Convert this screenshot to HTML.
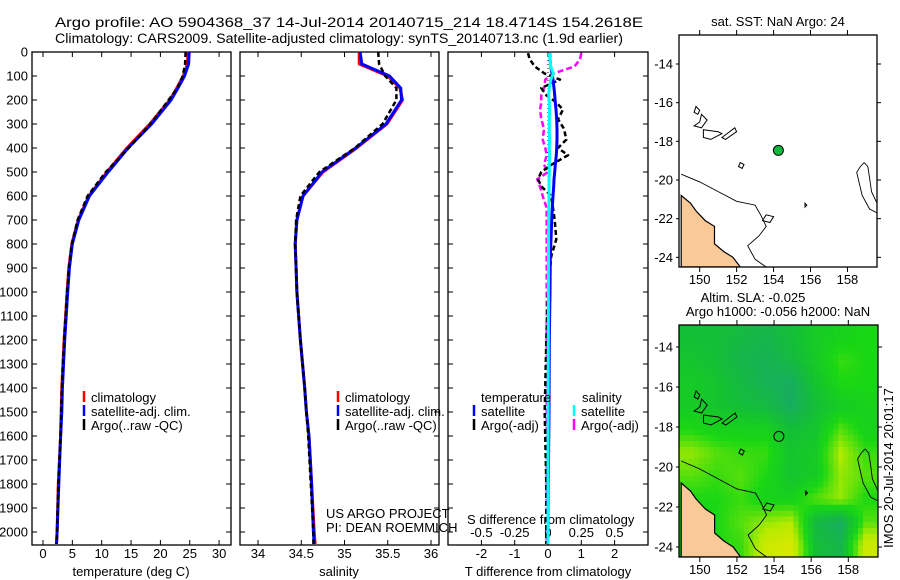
<!DOCTYPE html>
<html><head><meta charset="utf-8"><style>
html,body{margin:0;padding:0;background:#fff;}
svg{display:block;font-family:"Liberation Sans",sans-serif;}
</style></head><body>
<svg id="c" width="900" height="580" viewBox="0 0 900 580">
<text x="55" y="27" font-size="13.5" textLength="588" lengthAdjust="spacingAndGlyphs">Argo profile: AO 5904368_37 14-Jul-2014 20140715_214 18.4714S 154.2618E</text>
<text x="55" y="43" font-size="13.5" textLength="568" lengthAdjust="spacingAndGlyphs">Climatology: CARS2009. Satellite-adjusted climatology: synTS_20140713.nc (1.9d earlier)</text>
</svg>
<script>
const NS="http://www.w3.org/2000/svg";
const svg=document.getElementById('c');
function mk(t,a,p){const e=document.createElementNS(NS,t);for(const k in a)e.setAttribute(k,a[k]);(p||svg).appendChild(e);return e;}
function txt(x,y,s,o,p){o=o||{};const e=mk('text',Object.assign({x:x,y:y,'font-size':13},o),p);e.textContent=s;return e;}

// ---- data ----
const depths=[0,50,100,150,200,300,400,500,600,700,800,900,1000,1200,1400,1500,1600,1800,2000,2050];
const tempClim=[24.7,24.6,23.9,22.8,21.6,18.2,14.3,10.9,7.8,6.0,4.9,4.4,4.1,3.6,3.2,3.1,3.0,2.6,2.4,2.3];
const tempSat=[24.9,24.8,24.1,23.0,21.8,18.5,14.5,11.1,7.9,6.1,5.0,4.5,4.2,3.7,3.3,3.2,3.0,2.7,2.4,2.3];
const tempArgo=[24.3,24.2,23.8,22.9,21.4,18.3,14.6,10.7,7.6,5.9,4.9,4.4,4.1,3.6,3.2,3.1,3.0,2.6,2.4,2.3];
const salClim=[35.17,35.17,35.5,35.64,35.67,35.49,35.14,34.75,34.52,34.45,34.43,34.44,34.45,34.49,34.54,34.56,34.59,34.62,34.65,34.66];
const salSat=[35.18,35.2,35.52,35.65,35.66,35.48,35.13,34.74,34.52,34.45,34.43,34.44,34.45,34.49,34.54,34.56,34.59,34.62,34.64,34.65];
const salArgo=[35.39,35.4,35.47,35.6,35.6,35.44,35.12,34.71,34.49,34.44,34.43,34.44,34.45,34.49,34.54,34.56,34.58,34.61,34.64,34.64];
const diffDepths=[5,30,60,90,115,150,180,210,240,280,320,365,400,430,470,500,530,560,600,650,700,780,850,1000,1200,1500,1800,2050];
const dTsat=[0.05,0.06,0.08,0.12,0.15,0.18,0.2,0.22,0.24,0.26,0.27,0.27,0.26,0.25,0.22,0.2,0.18,0.17,0.15,0.13,0.11,0.09,0.07,0.06,0.04,0.03,0.01,0.0];
const dTargo=[-0.6,-0.55,-0.4,-0.1,0.36,-0.2,-0.05,0.25,0.45,0.3,0.48,0.55,0.3,0.6,0.1,-0.2,-0.3,-0.2,0.1,0.15,0.2,0.25,0.1,0.0,-0.05,-0.1,-0.05,-0.05];
const dSsat=[0.01,0.015,0.02,0.04,0.02,0.01,0.005,0.01,0.012,0.01,0.01,0.012,0.01,0.012,0.01,0.01,0.008,0.008,0.008,0.006,0.005,0.004,0.004,0.003,0.002,0.001,0.0,0.0];
const dSargo=[0.25,0.24,0.2,0.04,-0.02,-0.03,-0.05,-0.05,-0.06,-0.05,-0.03,-0.04,-0.02,-0.01,-0.03,0.0,-0.08,-0.06,-0.04,-0.01,-0.01,-0.01,-0.01,-0.01,-0.01,-0.01,-0.01,-0.01];
const depthTicks=[0,100,200,300,400,500,600,700,800,900,1000,1100,1200,1300,1400,1500,1600,1700,1800,1900,2000];
const tempTicks=[0,5,10,15,20,25,30];
const salTicks=[34,34.5,35,35.5,36];
const tdTicks=[-2,-1,0,1,2];
const sdTicks=[-0.5,-0.25,0,0.25,0.5];

// ---- axes ----
const Y=d=>52+d*0.24;
const XT=t=>43+t*5.87;
const XS=s=>258+(s-34)*86.5;
const XD=t=>548+t*33.3;
const XSD=s=>548+s*133.2;
const pTop=52,pBot=545;

function frame(x0,x1,nm){
  const r=mk('rect',{x:x0,y:pTop,width:x1-x0,height:pBot-pTop,fill:'none',stroke:'#000','stroke-width':1.3});
  
  
  depthTicks.forEach(d=>{mk('line',{x1:x0,x2:x0+5,y1:Y(d),y2:Y(d),stroke:'#000'});mk('line',{x1:x1,x2:x1-5,y1:Y(d),y2:Y(d),stroke:'#000'});});
}
function xticks(ticks,f,y){
  ticks.forEach(v=>{const x=f(v);mk('line',{x1:x,x2:x,y1:pTop,y2:pTop+5,stroke:'#000'});mk('line',{x1:x,x2:x,y1:pBot,y2:pBot-5,stroke:'#000'});
  const t=txt(x,y,String(v),{'text-anchor':'middle'});
  
  });
}
function line(xs,ys,fx,col,w,dash,nm){
  const p=xs.map((v,i)=>fx(v).toFixed(1)+','+Y(ys[i]).toFixed(1)).join(' ');
  const a={points:p,fill:'none',stroke:col,'stroke-width':w,'stroke-linejoin':'round'};
  if(dash)a['stroke-dasharray']=dash;
  const e=mk('polyline',a);
  
  
}
frame(32,231,'temperature-panel');frame(240,439,'salinity-panel');frame(448,648,'difference-panel');
depthTicks.forEach(d=>{const t=txt(28,Y(d)+4.5,String(d),{'text-anchor':'end'});
  
  });
xticks(tempTicks,XT,558);xticks(salTicks,XS,558);xticks(tdTicks,XD,558);
sdTicks.forEach(v=>{const t=txt(XSD(v),537,String(v),{'text-anchor':'middle'});
  
  });
function label(x,y,s,nm,o){const t=txt(x,y,s,o||{});
  
  return t;}
label(131,576,'temperature (deg C)','x-axis-title-temperature',{'text-anchor':'middle'});
label(339,576,'salinity','x-axis-title-salinity',{'text-anchor':'middle'});
label(548,576,'T difference from climatology','x-axis-title-t-diff',{'text-anchor':'middle'});
label(467,524,'S difference from climatology','s-diff-axis-title');
label(326,518,'US ARGO PROJECT','project-label');
label(326,532,'PI: DEAN ROEMMICH','pi-label');

// ---- series ----
line(tempClim,depths,XT,'#f00',3,null,'temp-climatology-line');
line(tempSat,depths,XT,'#00f',3,null,'temp-satellite-line');
line(tempArgo,depths,XT,'#000',2.5,'5,3','temp-argo-line');
line(salClim,depths,XS,'#f00',3,null,'sal-climatology-line');
line(salSat,depths,XS,'#00f',3,null,'sal-satellite-line');
line(salArgo,depths,XS,'#000',2.5,'5,3','sal-argo-line');
mk('line',{x1:XD(0),x2:XD(0),y1:pTop,y2:pBot,stroke:'#000','stroke-dasharray':'1,3'});
line(dSargo,diffDepths,XSD,'#f0f',2.5,'6,3','s-diff-argo-line');
line(dTargo,diffDepths,XD,'#000',2.5,'5,3','t-diff-argo-line');
line(dTsat,diffDepths,XD,'#00f',3,null,'t-diff-satellite-line');
line(dSsat,diffDepths,XSD,'#0ff',3,null,'s-diff-satellite-line');

// ---- legends ----
function leg(x,y,col,lab,nm){
  const g=mk('g',{});
  
  
  mk('line',{x1:x,x2:x,y1:y-11,y2:y,stroke:col,'stroke-width':2.5},g);
  txt(x+7,y,lab,{},g);
}
[['#f00','climatology'],['#00f','satellite-adj. clim.'],['#000','Argo(..raw -QC)']].forEach((l,i)=>leg(84,402+i*14,l[0],l[1],'temp-legend-entry'));
[['#f00','climatology'],['#00f','satellite-adj. clim.'],['#000','Argo(..raw -QC)']].forEach((l,i)=>leg(338,402+i*14,l[0],l[1],'sal-legend-entry'));
label(481,402,'temperature','legend-heading-temperature');
label(582,402,'salinity','legend-heading-salinity');
leg(474,416,'#00f','satellite','t-diff-legend-satellite');leg(474,430,'#000','Argo(-adj)','t-diff-legend-argo');
leg(574,416,'#0ff','satellite','s-diff-legend-satellite');leg(574,430,'#f0f','Argo(-adj)','s-diff-legend-argo');

// ---- maps ----
const lonT=[150,152,154,156,158], latT=[-14,-16,-18,-20,-22,-24];
const heat=[
[.3,.3,.25,.2,.3,.4,.45,.5],
[.35,.3,.2,.15,.25,.4,.55,.5],
[.4,.35,.25,.15,.1,.35,.5,.5],
[.4,.35,.3,.25,.1,.3,.4,.45],
[.5,.45,.45,.45,.3,.35,.6,.45],
[.7,.6,.55,.55,.35,.4,.75,.55],
[.6,.55,.6,.5,.35,.4,.7,.6],
[.5,.5,.55,.45,.45,.6,.7,.5],
[.5,.5,.6,.7,.75,.25,.1,.6],
[.5,.5,.55,.85,.9,.3,.2,.85]];
function cmap(v){const st=[[0,[25,165,115]],[0.3,[20,190,55]],[0.5,[25,215,20]],[0.75,[180,235,0]],[1,[238,230,0]]];
  v=Math.max(0,Math.min(1,v));
  for(let i=1;i<st.length;i++){if(v<=st[i][0]){const a=st[i-1],b=st[i],f=(v-a[0])/(b[0]-a[0]);return 'rgb('+a[1].map((c,k)=>Math.round(c+(b[1][k]-c)*f)).join(',')+')';}}return 'rgb(238,230,0)';}
function sampleHeat(u,v){const R=heat.length,C=heat[0].length;
  const x=Math.max(0,Math.min(C-1,u*C-0.5)),y=Math.max(0,Math.min(R-1,v*R-0.5));
  const i=Math.min(R-2,Math.floor(y)),j=Math.min(C-2,Math.floor(x)),fy=y-i,fx=x-j;
  return heat[i][j]*(1-fx)*(1-fy)+heat[i][j+1]*fx*(1-fy)+heat[i+1][j]*(1-fx)*fy+heat[i+1][j+1]*fx*fy;}
const land=[[149,-20.8],[149.5,-21.2],[149.8,-21.6],[150.3,-22.1],[150.8,-22.4],[150.8,-23.3],[151.3,-23.7],[151.8,-24.0],[152.2,-24.5],[149,-24.5]];
const contour=[[149,-19.7],[150,-20.1],[151,-20.6],[152,-21.1],[153,-21.3],[153.3,-21.8],[153.6,-22.4],[153.2,-22.9],[152.6,-23.4],[153,-24.1],[153.6,-24.5]];
const contour2=[[159.6,-21.7],[159.2,-21.5],[158.8,-20.8],[158.6,-20],[158.5,-19.6],[158.7,-19.3],[158.9,-19.1],[159.1,-19.3],[159.2,-19.9],[159.3,-20.6],[159.6,-21.2]];
const islands=[[[149.8,-16.2],[150,-16.4],[149.9,-16.6],[149.7,-16.5]],[[150.1,-16.6],[150.4,-16.9],[150.1,-17.3],[149.7,-17.2],[150.0,-17.0]],[[150.2,-17.4],[151.0,-17.5],[151.2,-17.6],[150.6,-17.9],[150.2,-17.8]],[[151.2,-17.8],[151.9,-17.3],[152.0,-17.5],[151.4,-17.9]],[[152.2,-19.1],[152.4,-19.2],[152.3,-19.4],[152.1,-19.3]],[[153.6,-21.8],[154,-21.9],[153.8,-22.2],[153.4,-22.1]],[[155.7,-21.2],[155.8,-21.3],[155.7,-21.4]]];
function map(x0,y0,w,h,latTop,nm,heatOn){
  const lon0=148.88,lon1=159.6,lat0=latTop,lat1=-24.5;
  const px=l=>x0+(l-lon0)/(lon1-lon0)*w, py=l=>y0+(lat0-l)/(lat0-lat1)*h;
  const g=mk('g',{});
  
  
  const cid='clip'+nm;const cp=mk('clipPath',{id:cid},g);mk('rect',{x:x0,y:y0,width:w,height:h},cp);
  const inner=mk('g',{'clip-path':'url(#'+cid+')'},g);
  if(heatOn){const N=40,M=40;
    for(let i=0;i<M;i++)for(let j=0;j<N;j++){
      const c=mk('rect',{x:(x0+j*w/N).toFixed(2),y:(y0+i*h/M).toFixed(2),width:(w/N+0.6).toFixed(2),height:(h/M+0.6).toFixed(2),fill:cmap(sampleHeat((j+0.5)/N,(i+0.5)/M))},inner);
      
      }}
  const P=a=>a.map(p=>px(p[0]).toFixed(1)+','+py(p[1]).toFixed(1)).join(' ');
  const ld=mk('polygon',{points:P(land),fill:'#f9c998',stroke:'#000','stroke-width':1.2},inner);
  
  
  mk('polyline',{points:P(contour),fill:'none',stroke:'#000','stroke-width':0.9},inner);
  mk('polyline',{points:P(contour2),fill:'none',stroke:'#000','stroke-width':0.9},inner);
  islands.forEach(is=>mk('polygon',{points:P(is),fill:'none',stroke:'#000','stroke-width':1},inner));
  mk('rect',{x:x0,y:y0,width:w,height:h,fill:'none',stroke:'#000','stroke-width':1.3},g);
  lonT.forEach(l=>{mk('line',{x1:px(l),x2:px(l),y1:y0,y2:y0-5,stroke:'#000'},g);mk('line',{x1:px(l),x2:px(l),y1:y0+h,y2:y0+h+5,stroke:'#000'},g);txt(px(l),y0+h+17,String(l),{'text-anchor':'middle'},g);});
  latT.forEach(l=>{mk('line',{x1:x0+w,x2:x0+w+4,y1:py(l),y2:py(l),stroke:'#000'},g);mk('line',{x1:x0,x2:x0-3,y1:py(l),y2:py(l),stroke:'#000'},g);txt(x0-6,py(l)+4.5,String(l),{'text-anchor':'end'},g);});
  return {px,py,g};
}
const m1=map(679,35,198,232,-12.5,'sst-map',false);
const dot=mk('circle',{cx:m1.px(154.26),cy:m1.py(-18.47),r:5,fill:'#12b83c',stroke:'#000','stroke-width':1});


const m2=map(679,325,199,232,-12.9,'sla-map',true);
const ring=mk('circle',{cx:m2.px(154.26),cy:m2.py(-18.47),r:5,fill:'none',stroke:'#000','stroke-width':1});


label(778,26,'sat. SST: NaN Argo: 24','sst-map-title',{'text-anchor':'middle'});
label(753,302,'Altim. SLA: -0.025','sla-map-title',{'text-anchor':'middle'});
label(778,316,'Argo h1000: -0.056 h2000: NaN','sla-map-subtitle',{'text-anchor':'middle'});
label(0,0,'IMOS 20-Jul-2014 20:01:17','imos-timestamp',{'text-anchor':'middle',transform:'translate(893,468) rotate(-90)'});
</script>
</body></html>
